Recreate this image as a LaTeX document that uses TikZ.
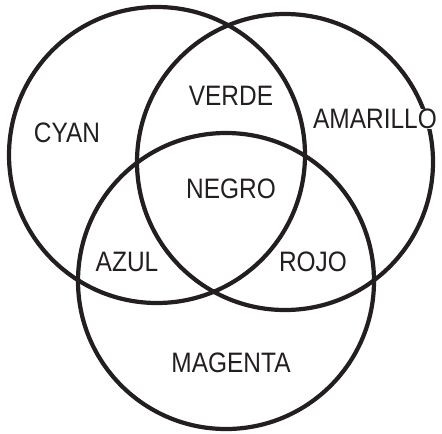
\documentclass[tikz,border=0pt]{standalone}
\usepackage{fontspec}
\setmainfont{Liberation Sans}[FakeStretch=0.87]
\usepackage{xcolor}
\definecolor{inkgray}{RGB}{35,31,32}

\tikzset{
  ring/.style={draw=inkgray, line width=2.4pt},
  zone/.style={font=\fontsize{16}{19}\selectfont, text=inkgray, inner sep=0pt}
}

\begin{document}
\begin{tikzpicture}[x=0.02cm, y=-0.02cm]
\useasboundingbox (0,0) rectangle (442,433);
% the three rings
\coordinate (cyanc) at (157,155);
\coordinate (amarc) at (285,162);
\coordinate (magc) at (226,281);
\draw[ring] (cyanc) circle[radius=148];
\draw[ring] (amarc) circle[radius=148];
\draw[ring] (magc) circle[radius=148];
% labels
\node[zone] (cyan) at (67,133) {CYAN};
\node[zone] (verde) at (231,96) {VERDE};
\node[zone, fill=white, inner xsep=1pt] (amarillo) at (375,119) {AMARILLO};
\node[zone] (negro) at (231,189) {NEGRO};
\node[zone] (azul) at (127,262) {AZUL};
\node[zone] (rojo) at (313,262) {ROJO};
\node[zone] (magenta) at (231,363) {MAGENTA};
\end{tikzpicture}
\end{document}
